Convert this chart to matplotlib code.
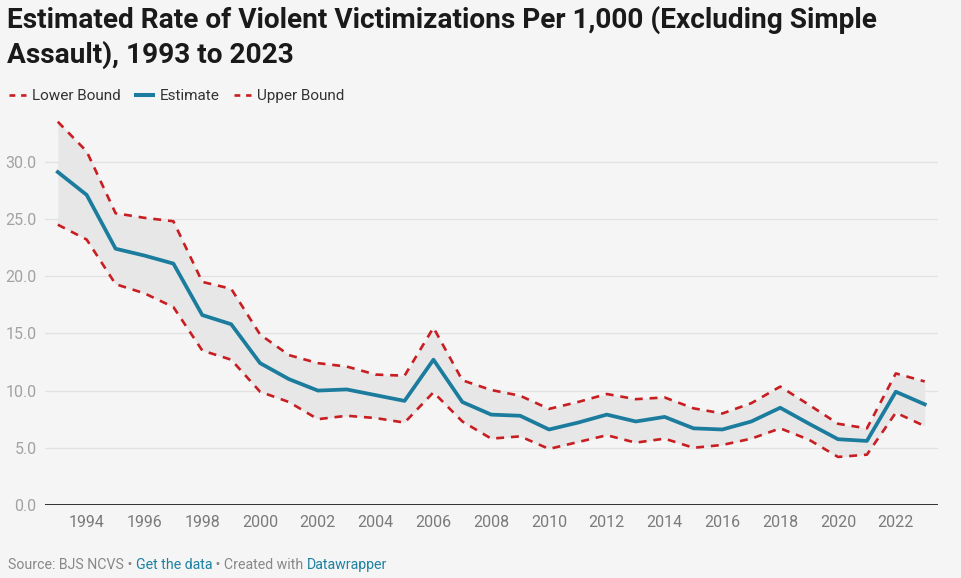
import matplotlib.pyplot as plt
from matplotlib.lines import Line2D

plt.rcParams['font.family'] = ['Roboto', 'DejaVu Sans']

# data
years = list(range(1993, 2024))
estimate = [29.1, 27.1, 22.4, 21.8, 21.1, 16.6, 15.8, 12.4, 11.0, 10.0,
            10.1, 9.6, 9.1, 12.7, 9.0, 7.9, 7.8, 6.6, 7.2, 7.9,
            7.3, 7.7, 6.7, 6.6, 7.3, 8.5, 7.1, 5.75, 5.6, 9.9, 8.8]
upper = [33.5, 30.9, 25.5, 25.1, 24.8, 19.5, 18.9, 14.9, 13.1, 12.4,
         12.1, 11.4, 11.3, 15.5, 10.9, 10.05, 9.55, 8.4, 9.0, 9.7,
         9.25, 9.4, 8.45, 8.0, 8.9, 10.35, 8.75, 7.1, 6.7, 11.5, 10.8]
lower = [24.5, 23.2, 19.3, 18.5, 17.3, 13.5, 12.7, 9.9, 9.0, 7.5,
         7.8, 7.6, 7.2, 9.85, 7.3, 5.8, 6.0, 4.9, 5.5, 6.1,
         5.45, 5.8, 5.0, 5.25, 5.8, 6.7, 5.7, 4.2, 4.4, 8.07, 6.9]
yticks = [0, 5, 10, 15, 20, 25, 30]
xticks = list(range(1994, 2023, 2))

bg = '#f5f5f5'
blue = '#1b7c9e'
red = '#c81e22'

fig = plt.figure(figsize=(9.62, 5.78), dpi=100, facecolor=bg)
ax = fig.add_axes([45/962, 73/578, 892.7/962, 389/578], facecolor=bg)

ax.fill_between(years, lower, upper, color='#e7e7e7', lw=0, zorder=1)
ax.plot(years, lower, color=red, lw=1.9, ls=(0, (3, 2.6)), zorder=3)
ax.plot(years, estimate, color=blue, lw=2.7, zorder=4)
ax.plot(years, upper, color=red, lw=1.9, ls=(0, (3, 2.6)), zorder=3)

ax.set_xlim(1992.557, 2023.45)
ax.set_ylim(0, 34)
ax.set_yticks(yticks)
ax.set_yticklabels([f'{v:.1f}' for v in yticks])
ax.set_xticks(xticks)
ax.tick_params(axis='y', length=0, labelsize=11.5, labelcolor='#a2a2a2', pad=6)
ax.tick_params(axis='x', length=0, labelsize=11.5, labelcolor='#7a7a7a', pad=7)
for v in yticks[1:]:
    ax.axhline(v, color='#e2e2e2', lw=1, zorder=0)
ax.axhline(0, color='#222222', lw=1.3, zorder=5)
for s in ax.spines.values():
    s.set_visible(False)

fig.text(7/962, 1 - 6/578,
         'Estimated Rate of Violent Victimizations Per 1,000 (Excluding Simple\nAssault), 1993 to 2023',
         fontsize=20.2, fontweight='bold', color='#1a1a1a', va='top', ha='left',
         linespacing=1.3)

# legend keys: short two-dash swatches like the original
h_low = Line2D([], [], color=red, lw=1.9, ls=(0, (2.2, 2.2)))
h_est = Line2D([], [], color=blue, lw=2.9)
h_up = Line2D([], [], color=red, lw=1.9, ls=(0, (2.2, 2.2)))
fig.legend([h_low, h_est, h_up], ['Lower Bound', 'Estimate', 'Upper Bound'],
           loc='center left', bbox_to_anchor=(-5/962, 1 - 96/578), ncol=3,
           frameon=False, fontsize=11, handlelength=1.15, handletextpad=0.4,
           columnspacing=0.95, labelcolor='#333333')

# footer, link parts in blue, each piece placed after the previous one
parts = [('Source: BJS NCVS', '#888888'), (' • ', '#888888'),
         ('Get the data', '#1d81a2'), (' • Created with ', '#888888'),
         ('Datawrapper', '#1d81a2')]
prev = fig.text(8/962, 1 - 565/578, parts[0][0], fontsize=10.2,
                color=parts[0][1], va='center', ha='left')
for txt, col in parts[1:]:
    prev = ax.annotate(txt, xy=(1, 0.5), xycoords=prev, xytext=(0, 0),
                       textcoords='offset points', fontsize=10.2, color=col,
                       va='center', ha='left', annotation_clip=False)

fig.savefig('out.png', dpi=100, facecolor=bg)
